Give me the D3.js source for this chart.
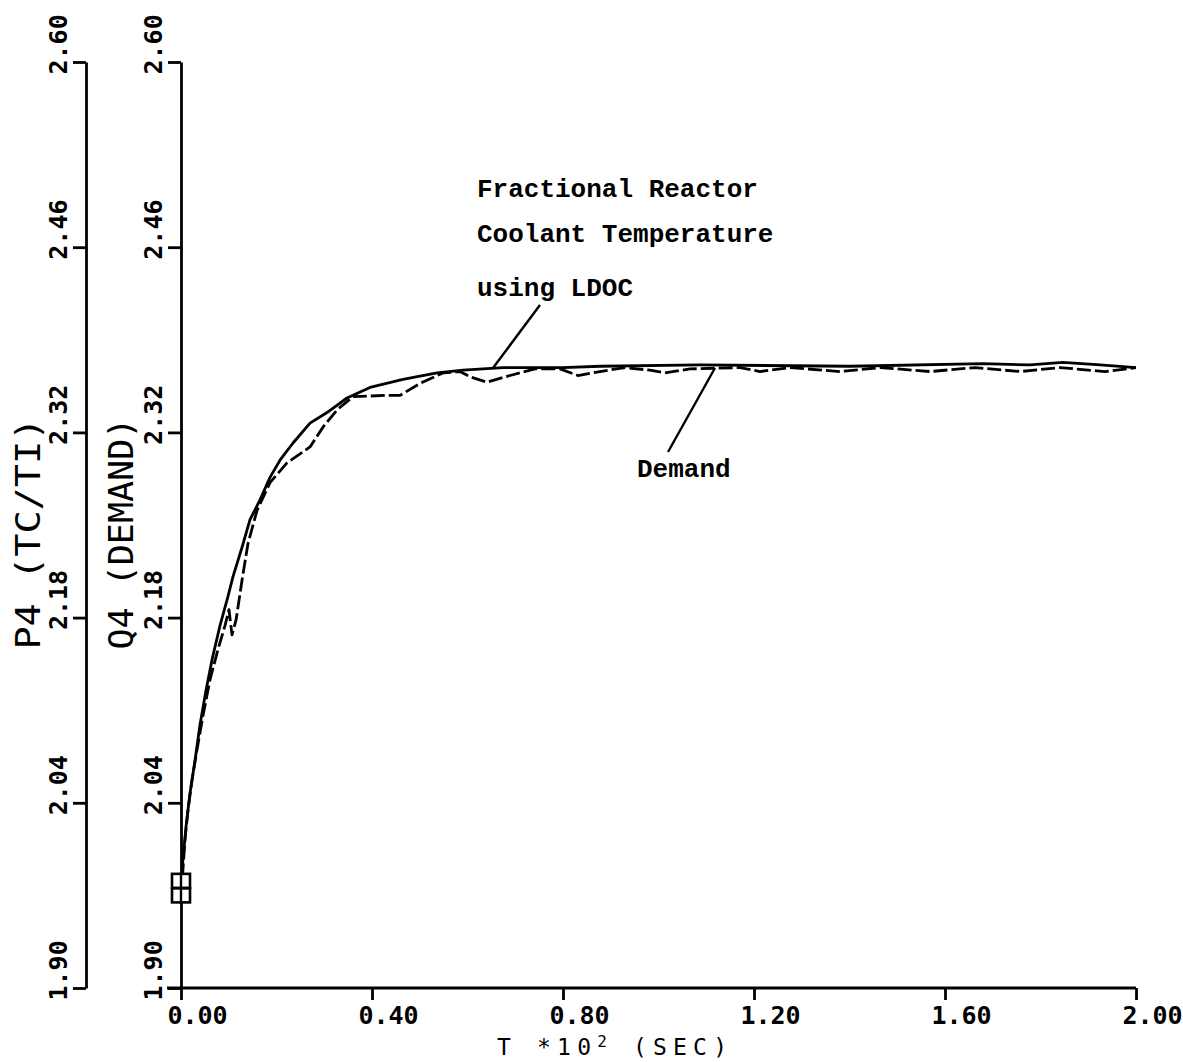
<!DOCTYPE html>
<html>
<head>
<meta charset="utf-8">
<script src="https://cdn.jsdelivr.net/npm/d3@7"></script>
<style>
  body { margin: 0; background: #fff; }
  svg { display: block; background: #fff; }
  .axis path, .axis line { stroke: #000; stroke-width: 2.8; }
  .axis text { font-family: "DejaVu Sans Mono", monospace; font-weight: bold; font-size: 25px; fill: #000; }
  .title { font-family: "DejaVu Sans Mono", monospace; font-size: 34px; fill: #000; }
  .note { font-family: "Liberation Mono", "Courier New", monospace; font-weight: bold; font-size: 26px; fill: #000; }
  .xtitle { font-family: "DejaVu Sans Mono", monospace; font-size: 23px; fill: #000; }
  .curve { fill: none; stroke: #000; stroke-width: 2.8; stroke-linejoin: round; }
  .coolant { stroke-dasharray: 14, 4; }
  .leader { stroke: #000; stroke-width: 2.4; }
</style>
</head>
<body>
<svg id="chart"></svg>
<script>
// time axis in units of 10^2 s
var xTicks = [0.00, 0.40, 0.80, 1.20, 1.60, 2.00];
var yTicks = [1.90, 2.04, 2.18, 2.32, 2.46, 2.60];

// Q4 (DEMAND), the smooth solid trace
var demandT = [0, 0.004, 0.0105, 0.0188, 0.0293, 0.0398, 0.0524, 0.0649,
    0.0817, 0.0984, 0.1089, 0.1277, 0.1445, 0.1654, 0.1864, 0.2073, 0.2346,
    0.2702, 0.3058, 0.3476, 0.3958, 0.4649, 0.5361, 0.5906, 0.6743, 0.80,
    0.8775, 1.087, 1.401, 1.68, 1.778, 1.847, 1.925, 2.00];
var demandV = [1.981, 1.997, 2.022, 2.047, 2.072, 2.099, 2.125, 2.148,
    2.174, 2.196, 2.211, 2.233, 2.254, 2.269, 2.286, 2.299, 2.312,
    2.327, 2.335, 2.346, 2.354, 2.360, 2.365, 2.367, 2.369, 2.369,
    2.370, 2.371, 2.370, 2.372, 2.371, 2.373, 2.371, 2.369];

// P4 (TC/TI), fractional reactor coolant temperature using LDOC
var coolantT = [0, 0.004, 0.0084, 0.0147, 0.023, 0.0335, 0.0461, 0.0607,
    0.0775, 0.0921, 0.1005, 0.1068, 0.1152, 0.1277, 0.1403, 0.1592, 0.1864,
    0.2220, 0.2702, 0.2974, 0.3267, 0.3602, 0.4314, 0.4586, 0.5005, 0.5487,
    0.5843, 0.6052, 0.6408, 0.6890, 0.7414, 0.7937, 0.8314, 0.8775, 0.9298,
    0.9822, 1.0136, 1.0660, 1.1707, 1.2126, 1.2754, 1.380, 1.464, 1.5686,
    1.6628, 1.757, 1.8408, 1.935, 2.00];
var coolantV = [1.970, 1.989, 2.012, 2.035, 2.057, 2.080, 2.106, 2.133,
    2.156, 2.174, 2.186, 2.167, 2.178, 2.208, 2.236, 2.261, 2.282,
    2.297, 2.309, 2.324, 2.337, 2.347, 2.348, 2.348, 2.357, 2.365,
    2.366, 2.362, 2.358, 2.363, 2.368, 2.368, 2.363, 2.366, 2.369,
    2.367, 2.365, 2.368, 2.369, 2.366, 2.369, 2.366, 2.369, 2.366,
    2.369, 2.366, 2.369, 2.366, 2.369];

var width = 1183;
var height = 1062;

var svg = d3.select("#chart")
    .attr("width", width)
    .attr("height", height);

var xScale = d3.scaleLinear()
    .domain([0, 2.0])
    .range([181, 1136]);
var yScale = d3.scaleLinear()
    .domain([1.90, 2.60])
    .range([988, 62]);

var fmt = d3.format(".2f");

// two stacked y axes: P4 further left, Q4 against the plot
function drawYAxis(xPos, label, labelX) {
  var g = svg.append("g")
      .attr("class", "y axis")
      .attr("transform", `translate(${xPos}, 0)`)
      .call(d3.axisLeft(yScale)
          .tickValues(yTicks)
          .tickFormat(fmt)
          .tickSize(13)
          .tickSizeOuter(0));
  g.selectAll(".tick text")
      .attr("transform", "rotate(-90)")
      .attr("x", -12)
      .attr("y", -19)
      .attr("dy", 0)
      .style("text-anchor", "start");

  svg.append("text")
      .attr("class", "title")
      .attr("transform", `translate(${labelX}, ${yScale(2.18) - 84}) rotate(-90)`)
      .attr("textLength", 232)
      .attr("lengthAdjust", "spacingAndGlyphs")
      .style("text-anchor", "middle")
      .text(label);
}

drawYAxis(86, "P4 (TC/TI)", 40);
drawYAxis(181, "Q4 (DEMAND)", 133);

// x axis
var xg = svg.append("g")
    .attr("class", "x axis")
    .attr("transform", `translate(0, ${yScale(1.90)})`)
    .call(d3.axisBottom(xScale)
        .tickValues(xTicks)
        .tickFormat(fmt)
        .tickSize(12)
        .tickSizeOuter(0));
xg.select(".domain")
    .attr("d", `M${xScale(0) - 14},0H${xScale(2.0)}`);
xg.selectAll(".tick text")
    .attr("x", 16)
    .attr("y", 36)
    .attr("dy", 0)
    .style("text-anchor", "middle");

var xTitle = svg.append("text")
    .attr("class", "xtitle")
    .attr("x", 497)
    .attr("y", 1055)
    .attr("textLength", 230)
    .attr("lengthAdjust", "spacing");
xTitle.append("tspan").text("T *10");
xTitle.append("tspan").attr("dy", -8).style("font-size", "16px").text("2");
xTitle.append("tspan").attr("dy", 8).text(" (SEC)");

// curves
var line = d3.line()
    .x(function(d) { return xScale(d[0]); })
    .y(function(d) { return yScale(d[1]); });

var demand = d3.zip(demandT, demandV);
var coolant = d3.zip(coolantT, coolantV);

svg.append("path")
    .datum(demand)
    .attr("class", "curve demand")
    .attr("d", line);
svg.append("path")
    .datum(coolant)
    .attr("class", "curve coolant")
    .attr("d", line);

// start markers
[demand[0], coolant[0]].forEach(function(p) {
  var cx = xScale(p[0]);
  var cy = yScale(p[1]);
  svg.append("rect")
      .attr("x", cx - 9)
      .attr("y", cy - 7)
      .attr("width", 18)
      .attr("height", 14)
      .attr("fill", "#fff")
      .attr("stroke", "#000")
      .attr("stroke-width", 2.6);
  svg.append("line")
      .attr("class", "leader")
      .attr("x1", cx)
      .attr("x2", cx)
      .attr("y1", cy - 7)
      .attr("y2", cy + 7);
});

// annotations
var notes = [
  {text: "Fractional Reactor", t: 0.6199, v: 2.4979},
  {text: "Coolant Temperature", t: 0.6199, v: 2.4639},
  {text: "using LDOC", t: 0.6199, v: 2.4231},
  {text: "Demand", t: 0.955, v: 2.2863}
];
svg.selectAll("text.ann")
    .data(notes)
    .enter().append("text")
        .attr("class", "note ann")
        .attr("x", function(d) { return xScale(d.t); })
        .attr("y", function(d) { return yScale(d.v); })
        .text(function(d) { return d.text; });

var leaders = [
  [[0.7518, 2.4163], [0.6534, 2.3687]],
  [[1.0199, 2.3052], [1.1183, 2.3687]]
];
svg.selectAll("line.lead")
    .data(leaders)
    .enter().append("line")
        .attr("class", "leader lead")
        .attr("x1", function(d) { return xScale(d[0][0]); })
        .attr("y1", function(d) { return yScale(d[0][1]); })
        .attr("x2", function(d) { return xScale(d[1][0]); })
        .attr("y2", function(d) { return yScale(d[1][1]); });
</script>
</body>
</html>
